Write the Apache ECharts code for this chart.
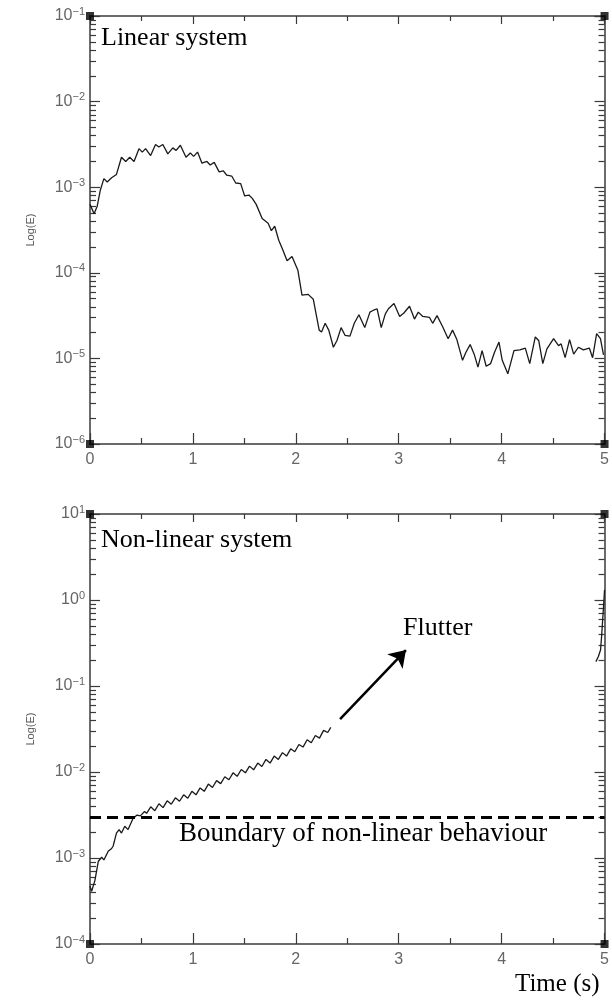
<!DOCTYPE html>
<html><head><meta charset="utf-8">
<script src="https://cdn.jsdelivr.net/npm/echarts@6/dist/echarts.min.js"></script>
<style>html,body{margin:0;padding:0;background:#fff}#c{width:612px;height:1003px}</style>
</head><body><div id="c"></div>
<script>
// ---- data ----
const timeRange = [0, 5];
const xTickLabels = ['0', '1', '2', '3', '4', '5'];
const topYRange = [1e-6, 1e-1];
const bottomYRange = [1e-4, 10];

const linTime = [0, 0.04, 0.07, 0.10, 0.135, 0.167, 0.21, 0.257, 0.306, 0.347,
  0.386, 0.428, 0.476, 0.508, 0.54, 0.589, 0.637, 0.669, 0.708, 0.756,
  0.805, 0.837, 0.878, 0.933, 0.975, 1.007, 1.045, 1.088, 1.136, 1.168,
  1.207, 1.255, 1.296, 1.329, 1.377, 1.416, 1.464, 1.503, 1.544, 1.577,
  1.615, 1.673, 1.731, 1.763, 1.795, 1.834, 1.873, 1.915, 1.963, 2.02,
  2.06, 2.12, 2.17, 2.227, 2.25, 2.285, 2.32, 2.365, 2.40, 2.44,
  2.478, 2.526, 2.568, 2.613, 2.67, 2.72, 2.75, 2.79, 2.83, 2.87,
  2.90, 2.954, 3.009, 3.05, 3.105, 3.153, 3.19, 3.234, 3.298, 3.33,
  3.372, 3.427, 3.48, 3.523, 3.565, 3.62, 3.652, 3.694, 3.733, 3.77,
  3.81, 3.85, 3.893, 3.93, 3.974, 4.006, 4.06, 4.12, 4.177, 4.23,
  4.273, 4.327, 4.36, 4.40, 4.44, 4.505, 4.553, 4.578, 4.617, 4.66,
  4.70, 4.746, 4.794, 4.852, 4.884, 4.923, 4.96, 4.99];
const linEnergy = [6.3e-4, 4.9e-4, 6.0e-4, 9.2e-4, 1.26e-3, 1.15e-3, 1.29e-3, 1.41e-3, 2.24e-3, 2.0e-3,
  2.24e-3, 2.0e-3, 2.82e-3, 2.57e-3, 2.82e-3, 2.34e-3, 3.16e-3, 2.95e-3, 3.16e-3, 2.45e-3,
  2.88e-3, 2.69e-3, 3.09e-3, 2.24e-3, 2.51e-3, 2.29e-3, 2.57e-3, 1.91e-3, 2.0e-3, 1.82e-3,
  1.95e-3, 1.51e-3, 1.55e-3, 1.38e-3, 1.35e-3, 1.12e-3, 1.10e-3, 7.9e-4, 8.1e-4, 7.4e-4,
  6.3e-4, 4.3e-4, 3.8e-4, 3.1e-4, 3.5e-4, 2.4e-4, 1.86e-4, 1.38e-4, 1.55e-4, 1.07e-4,
  5.5e-5, 5.6e-5, 4.9e-5, 2.14e-5, 2.04e-5, 2.57e-5, 2.14e-5, 1.35e-5, 1.62e-5, 2.29e-5,
  1.86e-5, 1.82e-5, 2.57e-5, 3.24e-5, 2.29e-5, 3.47e-5, 3.63e-5, 3.8e-5, 2.29e-5, 3.31e-5,
  3.8e-5, 4.37e-5, 3.09e-5, 3.39e-5, 4.07e-5, 2.88e-5, 3.47e-5, 3.09e-5, 3.02e-5, 2.57e-5,
  3.16e-5, 2.34e-5, 1.70e-5, 2.14e-5, 1.66e-5, 9.5e-6, 1.17e-5, 1.45e-5, 1.12e-5, 7.9e-6,
  1.23e-5, 8.1e-6, 8.7e-6, 1.17e-5, 1.55e-5, 9.5e-6, 6.6e-6, 1.23e-5, 1.26e-5, 1.32e-5,
  8.7e-6, 1.78e-5, 1.62e-5, 8.7e-6, 1.29e-5, 1.70e-5, 1.41e-5, 1.48e-5, 1.02e-5, 1.66e-5,
  1.12e-5, 1.35e-5, 1.26e-5, 1.32e-5, 1.02e-5, 1.95e-5, 1.70e-5, 1.10e-5];

const nlTime = [0, 0.016, 0.048, 0.08, 0.113, 0.135, 0.177, 0.21, 0.225, 0.257,
  0.283, 0.306, 0.338, 0.37, 0.418, 0.457, 0.489, 0.53,
  0.55, 0.59, 0.63, 0.67, 0.71, 0.75, 0.79, 0.83, 0.87, 0.91,
  0.95, 0.99, 1.03, 1.07, 1.11, 1.15, 1.19, 1.23, 1.27, 1.31,
  1.35, 1.39, 1.43, 1.47, 1.51, 1.55, 1.59, 1.63, 1.67, 1.71,
  1.75, 1.79, 1.83, 1.87, 1.91, 1.95, 1.99, 2.03, 2.07, 2.11,
  2.15, 2.19, 2.23, 2.27, 2.31, 2.34];
const nlEnergy = [4.7e-4, 4.1e-4, 5.5e-4, 9.1e-4, 1.02e-3, 9.5e-4, 1.2e-3, 1.29e-3, 1.38e-3, 1.95e-3,
  2.14e-3, 1.95e-3, 2.34e-3, 2.14e-3, 2.88e-3, 3.16e-3, 3.09e-3, 3.47e-3,
  0.00331, 0.00394, 0.00355, 0.00427, 0.00385, 0.00462, 0.00422, 0.00501, 0.00457, 0.00543,
  0.00495, 0.00596, 0.00543, 0.00653, 0.00596, 0.00724, 0.00661, 0.00794, 0.00733, 0.00881,
  0.00813, 0.00977, 0.00891, 0.0107, 0.00977, 0.0117, 0.0106, 0.0127, 0.0116, 0.0140,
  0.0127, 0.0153, 0.0140, 0.0168, 0.0153, 0.0186, 0.0172, 0.0209, 0.0195, 0.0237,
  0.0219, 0.0266, 0.0248, 0.0305, 0.0288, 0.0331];
const nlTailTime = [4.916, 4.939, 4.961, 4.971, 4.988, 5.0];
const nlTailEnergy = [0.192, 0.219, 0.262, 0.374, 0.766, 1.31];

const boundaryLevel = 3e-3;
const arrowFrom = [2.43, 0.0413];
const arrowTo = [3.07, 0.262];

// ---- helpers ----
const AX = '#3a3a3a';
const LBL = '#666';
const zip = (a, b) => a.map((v, i) => [v, b[i]]);
function expLabel(v) {
  const e = Math.round(Math.log10(v));
  return '{b|10}{s|' + (e < 0 ? '\u2212' + (-e) : String(e)) + '}';
}
function minorLogs(lo, hi) {
  const out = [];
  for (let d = lo; d < hi; d++) for (let k = 2; k <= 9; k++) out.push(d + Math.log10(k));
  return out;
}
const richLbl = {
  b: { fontSize: 16, color: LBL, fontFamily: 'Liberation Sans' },
  s: { fontSize: 11, color: LBL, fontFamily: 'Liberation Sans', padding: [0, 0, 9, 0] }
};

function xAxes(g) {
  return [
    { gridIndex: g, type: 'value', min: timeRange[0], max: timeRange[1], interval: 1, position: 'bottom',
      axisLine: { onZero: false, lineStyle: { color: AX, width: 1.5 } },
      axisTick: { inside: true, length: 11, lineStyle: { color: AX, width: 1.2 } },
      minorTick: { show: true, splitNumber: 2, length: 6, lineStyle: { color: AX, width: 1.2 } },
      splitLine: { show: false },
      axisLabel: { color: LBL, fontSize: 16, fontFamily: 'Liberation Sans', margin: 8,
        formatter: v => xTickLabels[Math.round(v)] } },
    { gridIndex: g, type: 'value', min: timeRange[0], max: timeRange[1], interval: 1, position: 'top',
      axisLine: { onZero: false, lineStyle: { color: AX, width: 1.5 } },
      axisTick: { inside: true, length: 8, lineStyle: { color: AX, width: 1.2 } },
      minorTick: { show: true, splitNumber: 2, length: 5, lineStyle: { color: AX, width: 1.2 } },
      splitLine: { show: false }, axisLabel: { show: false } }
  ];
}
function yAxes(g, range) {
  const lo = Math.round(Math.log10(range[0])), hi = Math.round(Math.log10(range[1]));
  const common = { gridIndex: g, type: 'log', logBase: 10, min: range[0], max: range[1], splitNumber: hi - lo,
    splitLine: { show: false }, minorTick: { show: false } };
  const minorCommon = { gridIndex: g, type: 'value', min: lo, max: hi,
    axisLine: { show: false, onZero: false }, splitLine: { show: false }, axisLabel: { show: false },
    axisTick: { show: true, inside: true, length: 6, customValues: minorLogs(lo, hi), lineStyle: { color: AX, width: 1.2 } } };
  return [
    Object.assign({}, common, { position: 'left',
      axisLine: { onZero: false, lineStyle: { color: AX, width: 1.5 } },
      axisTick: { inside: true, length: 10, lineStyle: { color: AX, width: 1.2 } },
      axisLabel: { formatter: expLabel, rich: richLbl, margin: 5 },
      name: 'Log(E)', nameLocation: 'middle', nameGap: 54, nameRotate: 90,
      nameTextStyle: { fontSize: 11, color: '#555', fontFamily: 'Liberation Sans' } }),
    Object.assign({}, common, { position: 'right',
      axisLine: { onZero: false, lineStyle: { color: AX, width: 1.5 } },
      axisTick: { inside: true, length: 10, lineStyle: { color: AX, width: 1.2 } },
      axisLabel: { show: false } }),
    Object.assign({}, minorCommon, { position: 'left' }),
    Object.assign({}, minorCommon, { position: 'right' })
  ];
}
function corners(xi, yi, range) {
  return { type: 'scatter', xAxisIndex: xi, yAxisIndex: yi, symbol: 'rect', symbolSize: 8, clip: false,
    itemStyle: { color: '#000' }, silent: true, z: 5,
    data: [[timeRange[0], range[0]], [timeRange[1], range[0]], [timeRange[0], range[1]], [timeRange[1], range[1]]] };
}
const serif = '"Liberation Serif", "Times New Roman", serif';
function txt(text, left, top, size) {
  return { type: 'text', left, top, style: { text, font: size + 'px ' + serif, fill: '#000' } };
}

const chart = echarts.init(document.getElementById('c'), null, { renderer: 'canvas' });
chart.setOption({
  animation: false,
  backgroundColor: '#fff',
  grid: [
    { left: 90, top: 16, right: 3, height: 428 },
    { left: 90, top: 514, right: 3, height: 430 }
  ],
  xAxis: xAxes(0).concat(xAxes(1)),
  yAxis: yAxes(0, topYRange).concat(yAxes(1, bottomYRange)),
  series: [
    { type: 'line', name: 'Linear', xAxisIndex: 0, yAxisIndex: 0, data: zip(linTime, linEnergy),
      showSymbol: false, lineStyle: { color: '#1a1a1a', width: 1.3 } },
    corners(0, 0, topYRange),
    { type: 'line', name: 'Non-linear', xAxisIndex: 2, yAxisIndex: 4, data: zip(nlTime, nlEnergy),
      showSymbol: false, lineStyle: { color: '#1a1a1a', width: 1.3 },
      markLine: { silent: true, symbol: ['none', 'none'], label: { show: false },
        lineStyle: { color: '#000', width: 3, type: [11, 6] },
        data: [[{ coord: [timeRange[0], boundaryLevel] }, { coord: [timeRange[1], boundaryLevel] }]] } },
    { type: 'line', name: 'Non-linear tail', xAxisIndex: 2, yAxisIndex: 4, data: zip(nlTailTime, nlTailEnergy),
      showSymbol: false, lineStyle: { color: '#1a1a1a', width: 1.3 },
      markLine: { silent: true, symbol: ['none', 'arrow'], symbolSize: 16, label: { show: false },
        lineStyle: { color: '#000', width: 2.5, type: 'solid' },
        data: [[{ coord: arrowFrom }, { coord: arrowTo }]] } },
    corners(2, 4, bottomYRange)
  ],
  graphic: [
    txt('Linear system', 101, 25, 26),
    txt('Non-linear system', 101, 527, 26),
    txt('Flutter', 403, 615, 26),
    txt('Boundary of non-linear behaviour', 179, 820, 27),
    txt('Time (s)', 515, 972, 25)
  ]
});
</script></body></html>
